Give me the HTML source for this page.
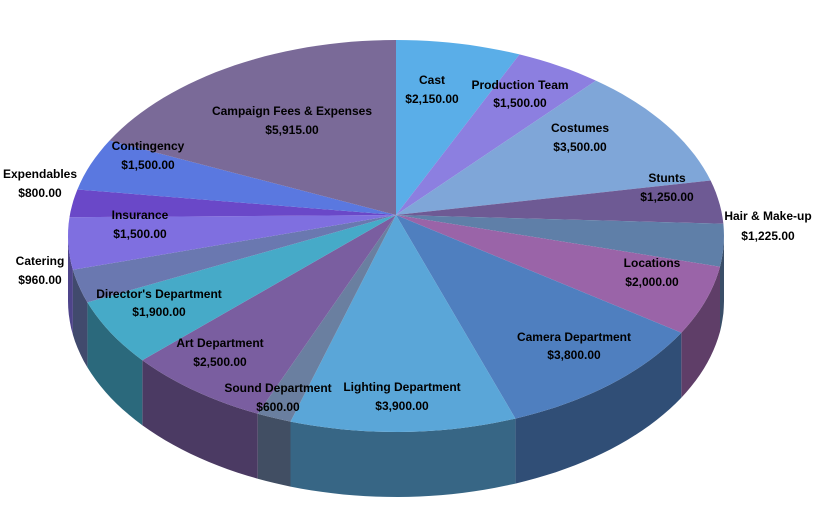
<!DOCTYPE html>
<html><head><meta charset="utf-8"><style>
html,body{margin:0;padding:0;background:#fff;}
svg{display:block;}
text{font-family:"Liberation Sans",sans-serif;font-size:12px;font-weight:bold;fill:#000;text-anchor:middle;}
</style></head><body>
<svg id="s" width="820" height="523" viewBox="0 0 820 523">
<g id="sides"></g><g id="tops"></g>
<g id="labels">
<text x="432" y="84">Cast</text><text x="432" y="103">$2,150.00</text>
<text x="520" y="89">Production Team</text><text x="520" y="107">$1,500.00</text>
<text x="580" y="132">Costumes</text><text x="580" y="151">$3,500.00</text>
<text x="667" y="182">Stunts</text><text x="667" y="201">$1,250.00</text>
<text x="768" y="220">Hair &amp; Make-up</text><text x="768" y="240">$1,225.00</text>
<text x="652" y="267">Locations</text><text x="652" y="286">$2,000.00</text>
<text x="574" y="341">Camera Department</text><text x="574" y="359">$3,800.00</text>
<text x="402" y="391">Lighting Department</text><text x="402" y="410">$3,900.00</text>
<text x="278" y="392">Sound Department</text><text x="278" y="411">$600.00</text>
<text x="220" y="347">Art Department</text><text x="220" y="366">$2,500.00</text>
<text x="159" y="298">Director's Department</text><text x="159" y="316">$1,900.00</text>
<text x="40" y="265">Catering</text><text x="40" y="284">$960.00</text>
<text x="140" y="219">Insurance</text><text x="140" y="238">$1,500.00</text>
<text x="40" y="178">Expendables</text><text x="40" y="197">$800.00</text>
<text x="148" y="150">Contingency</text><text x="148" y="169">$1,500.00</text>
<text x="292" y="115">Campaign Fees &amp; Expenses</text><text x="292" y="134">$5,915.00</text>
</g>
</svg>
<script>
var cx=396,cy=236,rx=328,ry=196,D=65,ax=396,ay=215,NS="http://www.w3.org/2000/svg";
var data=[[2150,"#5aaee8"],[1500,"#8c7fe0"],[3500,"#7fa6d8"],[1250,"#6e5a94"],[1225,"#5f7fa8"],[2000,"#9a64a8"],[3800,"#4f7fbf"],[3900,"#5aa6d8"],[600,"#6a7fa0"],[2500,"#7a5ea0"],[1900,"#46aac8"],[960,"#6a78b0"],[1500,"#7f6fe0"],[800,"#6a48c8"],[1500,"#5a78e0"],[5915,"#7a6a98"]];
function P(a,d){a=a*Math.PI/180;return [cx+rx*Math.sin(a),cy-ry*Math.cos(a)+(d||0)];}
function dark(c,f){var n=parseInt(c.slice(1),16);var r=(n>>16)*f|0,g=((n>>8)&255)*f|0,b=(n&255)*f|0;return "rgb("+r+","+g+","+b+")";}
function el(p,d,fill){var e=document.createElementNS(NS,"path");e.setAttribute("d",d);e.setAttribute("fill",fill);document.getElementById(p).appendChild(e);}
var a=0,tot=35000;
data.forEach(function(s){
 var a1=a,a2=a+s[0]/tot*360;a=a2;
 var st=[],n=Math.max(4,Math.ceil((a2-a1)/2));
 for(var i=0;i<=n;i++)st.push(P(a1+(a2-a1)*i/n));
 var d="M"+ax+","+ay+" L"+st.map(function(p){return p[0].toFixed(1)+","+p[1].toFixed(1)}).join(" L")+" Z";
 el("tops",d,s[1]);
 var b1=Math.max(a1,90),b2=Math.min(a2,270);
 if(b2>b1){
  var m=Math.max(2,Math.ceil((b2-b1)/2)),top=[],bot=[];
  for(var j=0;j<=m;j++){var t=b1+(b2-b1)*j/m;top.push(P(t));bot.push(P(t,D));}
  bot.reverse();
  var pts=top.concat(bot);
  el("sides","M"+pts.map(function(p){return p[0].toFixed(1)+","+p[1].toFixed(1)}).join(" L")+" Z",dark(s[1],0.62));
 }
});
</script>
</body></html>
